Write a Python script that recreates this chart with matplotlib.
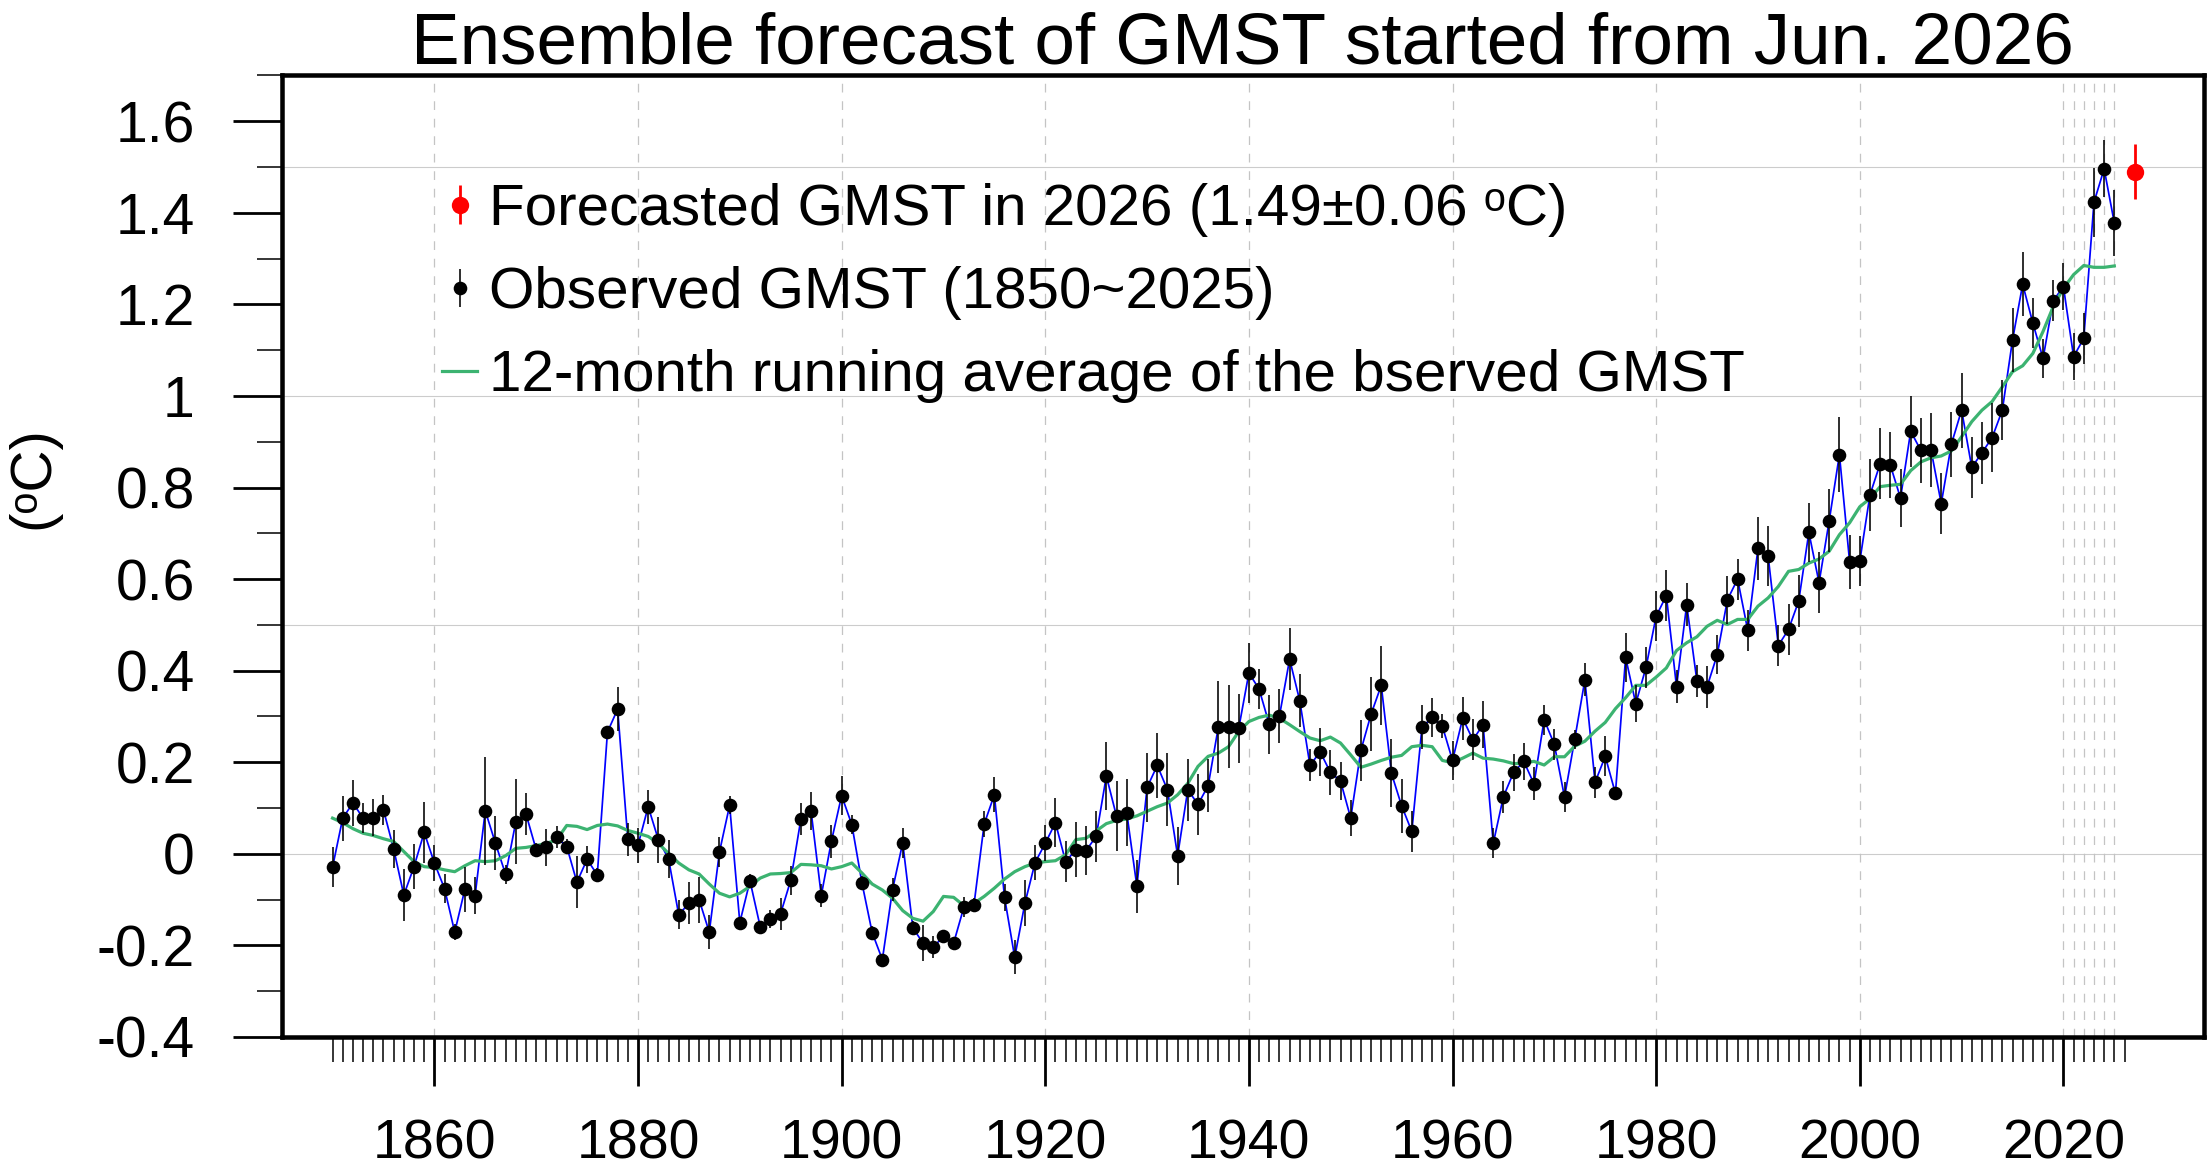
import numpy as np
import matplotlib
matplotlib.use("Agg")
import matplotlib.pyplot as plt
from matplotlib.container import ErrorbarContainer
from matplotlib.legend_handler import HandlerErrorbar
from matplotlib.font_manager import fontManager

# ---------------- data ----------------
years = np.arange(1850, 2026)

obs_gmst = (
    [-0.029, 0.078, 0.111, 0.078, 0.079, 0.096, 0.011, -0.090, -0.028, 0.047] +   # 1850s
    [-0.020, -0.076, -0.171, -0.077, -0.091, 0.094, 0.023, -0.045, 0.070, 0.087] + # 1860s
    [0.009, 0.014, 0.036, 0.016, -0.062, -0.012, -0.046, 0.266, 0.316, 0.032] +   # 1870s
    [0.019, 0.103, 0.031, -0.011, -0.133, -0.108, -0.100, -0.171, 0.004, 0.106] + # 1880s
    [-0.150, -0.059, -0.159, -0.142, -0.131, -0.058, 0.076, 0.093, -0.091, 0.028] +# 1890s
    [0.127, 0.064, -0.064, -0.172, -0.231, -0.078, 0.024, -0.162, -0.195, -0.204] +# 1900s
    [-0.180, -0.195, -0.117, -0.111, 0.065, 0.129, -0.095, -0.226, -0.108, -0.019] +# 1910s
    [0.023, 0.068, -0.017, 0.009, 0.007, 0.038, 0.170, 0.082, 0.090, -0.071] +    # 1920s
    [0.145, 0.193, 0.140, -0.004, 0.140, 0.108, 0.149, 0.277, 0.278, 0.274] +     # 1930s
    [0.395, 0.360, 0.283, 0.301, 0.425, 0.334, 0.193, 0.223, 0.178, 0.159] +      # 1940s
    [0.078, 0.226, 0.305, 0.368, 0.176, 0.105, 0.049, 0.276, 0.298, 0.279] +      # 1950s
    [0.204, 0.296, 0.249, 0.282, 0.023, 0.125, 0.178, 0.202, 0.153, 0.293] +      # 1960s
    [0.239, 0.124, 0.250, 0.380, 0.156, 0.213, 0.132, 0.429, 0.328, 0.407] +      # 1970s
    [0.519, 0.564, 0.365, 0.544, 0.378, 0.365, 0.435, 0.555, 0.600, 0.488] +      # 1980s
    [0.667, 0.650, 0.455, 0.490, 0.552, 0.702, 0.592, 0.728, 0.872, 0.638] +      # 1990s
    [0.639, 0.784, 0.852, 0.849, 0.777, 0.923, 0.881, 0.882, 0.765, 0.895] +      # 2000s
    [0.969, 0.844, 0.876, 0.909, 0.969, 1.122, 1.244, 1.159, 1.082, 1.208] +      # 2010s
    [1.239, 1.086, 1.126, 1.423, 1.496, 1.378]                                    # 2020s
)

obs_err = (
    [0.044, 0.049, 0.050, 0.032, 0.041, 0.033, 0.042, 0.057, 0.049, 0.067] +
    [0.039, 0.032, 0.018, 0.049, 0.040, 0.118, 0.059, 0.020, 0.093, 0.045] +
    [0.015, 0.041, 0.024, 0.017, 0.057, 0.029, 0.016, 0.013, 0.048, 0.036] +
    [0.038, 0.037, 0.050, 0.041, 0.032, 0.046, 0.050, 0.037, 0.033, 0.020] +
    [0.012, 0.015, 0.010, 0.020, 0.035, 0.032, 0.035, 0.042, 0.025, 0.036] +
    [0.043, 0.020, 0.015, 0.015, 0.010, 0.025, 0.032, 0.016, 0.040, 0.024] +
    [0.010, 0.010, 0.022, 0.015, 0.029, 0.038, 0.030, 0.037, 0.050, 0.038] +
    [0.039, 0.053, 0.044, 0.060, 0.053, 0.055, 0.074, 0.076, 0.073, 0.058] +
    [0.075, 0.071, 0.080, 0.063, 0.068, 0.066, 0.058, 0.100, 0.090, 0.076] +
    [0.065, 0.044, 0.064, 0.059, 0.068, 0.058, 0.035, 0.052, 0.049, 0.041] +
    [0.039, 0.067, 0.081, 0.086, 0.074, 0.059, 0.044, 0.048, 0.042, 0.026] +
    [0.042, 0.047, 0.045, 0.051, 0.033, 0.035, 0.041, 0.040, 0.036, 0.033] +
    [0.033, 0.032, 0.021, 0.036, 0.034, 0.044, 0.010, 0.054, 0.040, 0.044] +
    [0.055, 0.056, 0.036, 0.047, 0.035, 0.046, 0.042, 0.052, 0.045, 0.045] +
    [0.068, 0.066, 0.045, 0.055, 0.056, 0.064, 0.067, 0.069, 0.082, 0.059] +
    [0.055, 0.078, 0.078, 0.072, 0.064, 0.078, 0.071, 0.081, 0.066, 0.071] +
    [0.082, 0.066, 0.068, 0.075, 0.066, 0.070, 0.070, 0.055, 0.042, 0.045] +
    [0.051, 0.052, 0.056, 0.075, 0.062, 0.072]
)

running_avg = (
    [0.078, 0.068, 0.055, 0.045, 0.040, 0.033, 0.027, 0.005, -0.017, -0.028] +
    [-0.030, -0.035, -0.039, -0.026, -0.015, -0.017, -0.015, -0.004, 0.012, 0.014] +
    [0.018, 0.023, 0.030, 0.062, 0.060, 0.053, 0.062, 0.065, 0.061, 0.051] +
    [0.045, 0.038, 0.023, 0.001, -0.020, -0.035, -0.044, -0.066, -0.086, -0.094] +
    [-0.086, -0.071, -0.053, -0.044, -0.043, -0.041, -0.023, -0.024, -0.026, -0.033] +
    [-0.028, -0.020, -0.042, -0.066, -0.079, -0.097, -0.124, -0.141, -0.147, -0.126] +
    [-0.093, -0.095, -0.113, -0.108, -0.093, -0.075, -0.055, -0.039, -0.028, -0.020] +
    [-0.017, -0.015, -0.002, 0.031, 0.034, 0.050, 0.066, 0.073, 0.076, 0.083] +
    [0.093, 0.103, 0.111, 0.129, 0.154, 0.191, 0.213, 0.220, 0.234, 0.267] +
    [0.289, 0.298, 0.303, 0.296, 0.282, 0.267, 0.253, 0.247, 0.255, 0.242] +
    [0.216, 0.189, 0.196, 0.204, 0.211, 0.215, 0.234, 0.237, 0.234, 0.204] +
    [0.199, 0.209, 0.220, 0.209, 0.207, 0.203, 0.197, 0.198, 0.202, 0.194] +
    [0.212, 0.212, 0.235, 0.246, 0.268, 0.287, 0.317, 0.341, 0.368, 0.368] +
    [0.386, 0.406, 0.444, 0.461, 0.474, 0.497, 0.510, 0.501, 0.512, 0.512] +
    [0.541, 0.559, 0.584, 0.617, 0.621, 0.635, 0.644, 0.661, 0.697, 0.723] +
    [0.758, 0.776, 0.802, 0.805, 0.807, 0.837, 0.856, 0.865, 0.869, 0.880] +
    [0.911, 0.944, 0.969, 0.988, 1.020, 1.053, 1.066, 1.093, 1.141, 1.195] +
    [1.235, 1.265, 1.285, 1.281, 1.281, 1.284]
)

# forecast for 2026 (drawn one slot right of the last observation in the reference)
forecast_x = [2027]
forecast_val = [1.49]
forecast_err = [0.06]

ytick_vals = [-0.4, -0.2, 0, 0.2, 0.4, 0.6, 0.8, 1.0, 1.2, 1.4, 1.6]
ytick_labels = ["-0.4", "-0.2", "0", "0.2", "0.4", "0.6", "0.8", "1", "1.2", "1.4", "1.6"]
xtick_vals = [1860, 1880, 1900, 1920, 1940, 1960, 1980, 2000, 2020]
xtick_labels = [str(v) for v in xtick_vals]

title_text = "Ensemble forecast of GMST started from Jun. 2026"
legend_labels = [
    "Forecasted GMST in 2026 (1.49\u00b10.06 \u1d52C)",
    "Observed GMST (1850~2025)",
    "12-month running average of the bserved GMST",
]
ylabel_text = "(\u1d52C)"

# ---------------- style ----------------
plt.rcParams["font.family"] = ["Liberation Sans", "DejaVu Sans"]

fig = plt.figure(figsize=(22.09, 11.72), dpi=100)
ax = fig.add_axes([0.1275, 0.1152, 0.8702, 0.8204])

ax.set_xlim(1845.0, 2033.8)
ax.set_ylim(-0.4, 1.7)

# grid
for yv in [0, 0.5, 1.0, 1.5]:
    ax.axhline(yv, color="#cccccc", lw=0.8, zorder=0.5)
for xv in list(range(1860, 2001, 20)) + list(range(2020, 2026)):
    ax.axvline(xv, color="#c4c4c4", lw=0.9, ls=(0, (7, 7)), zorder=0.5)

# data
ax.plot(years, obs_gmst, color="blue", lw=1.25, zorder=2)
green_line, = ax.plot(years, running_avg, color="#3cb371", lw=2.3, zorder=3)
h_obs = ax.errorbar(years, obs_gmst, yerr=obs_err, fmt="o", color="black",
                    ms=9.8, mew=0, elinewidth=1.15, capsize=0, zorder=4)
h_fc = ax.errorbar(forecast_x, forecast_val, yerr=forecast_err, fmt="o", color="red",
                   ms=12.5, mew=0, elinewidth=2.0, capsize=0, zorder=5)

# ticks
ax.set_yticks(ytick_vals)
ax.set_yticklabels(ytick_labels)
ax.set_yticks(np.arange(-0.3, 1.75, 0.2), minor=True)
ax.set_xticks(xtick_vals)
ax.set_xticklabels(xtick_labels)
ax.set_xticks(np.arange(1850, 2027), minor=True)

ax.tick_params(axis="both", which="major", direction="out", length=35.5, width=2.0,
               color="black")
ax.tick_params(axis="both", which="minor", direction="out", length=17.7, width=1.1)
ax.tick_params(axis="x", which="major", pad=23, labelsize=40)
ax.tick_params(axis="y", which="major", pad=27, labelsize=41)
ax.tick_params(top=False, right=False, which="both")

for sp in ax.spines.values():
    sp.set_linewidth(3.25)
    sp.set_color("black")

# legend
leg = ax.legend([h_fc, h_obs, green_line], legend_labels,
                handler_map={ErrorbarContainer: HandlerErrorbar(yerr_size=0.33)},
                loc="upper left", bbox_to_anchor=(0.0833, 0.888),
                frameon=False, fontsize=42, handlelength=0.61, handletextpad=0.2,
                labelspacing=0.5, borderpad=0, borderaxespad=0, numpoints=1)

# title and y label
fig.text(0.5626, (1172 - 64) / 1172, title_text, ha="center", va="baseline",
         fontsize=52.5)
fig.text(33 / 2209, (1172 - 478) / 1172, ylabel_text, rotation=90,
         ha="center", va="center", fontsize=42)

fig.savefig("out.png", dpi=100)
